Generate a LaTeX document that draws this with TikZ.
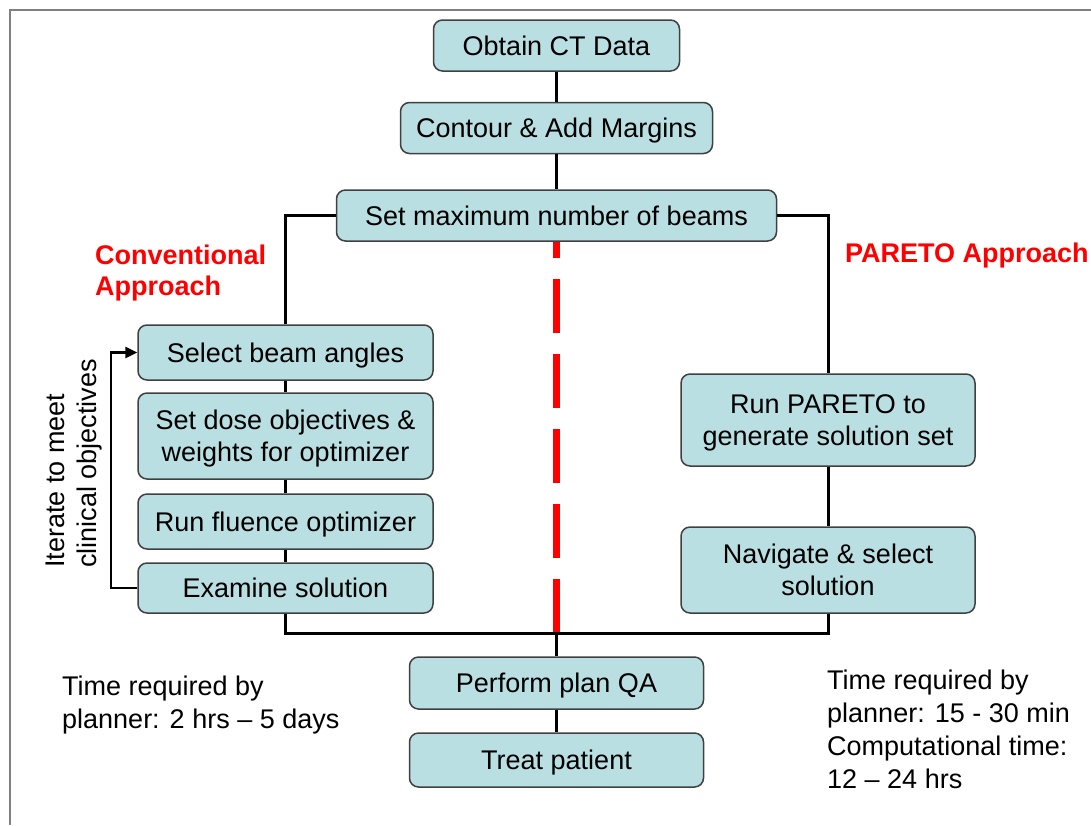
\documentclass[tikz,border=0pt]{standalone}
\usepackage{fontspec}
\setmainfont{Liberation Sans}
\usepackage{tikz}
\usetikzlibrary{arrows.meta}

\definecolor{boxfill}{RGB}{185,223,226}
\definecolor{boxline}{RGB}{64,64,64}
\definecolor{framegray}{RGB}{128,128,128}

\tikzset{
  stepbox/.style={draw=boxline, line width=1.5pt, fill=boxfill, rounded corners=9pt,
    align=center, inner sep=0pt, text height=19pt, text depth=0pt},
  twobox/.style={stepbox, text height=51pt},
  link/.style={line width=3pt},
  note/.style={inner sep=0pt, align=left, anchor=base west},
  headred/.style={note, text=red, font=\fontsize{27pt}{31pt}\selectfont\bfseries},
}

\begin{document}
\begin{tikzpicture}[x=1pt, y=-1pt, font=\fontsize{27pt}{32pt}\selectfont]
\useasboundingbox (0,0) rectangle (1091,825);
\draw[framegray, line width=2pt] (1091,10) -- (10,10) -- (10,825);

% common steps
\node (obtain) [stepbox, minimum width=246pt, minimum height=51pt] at (556.5,45.5) {Obtain CT Data};
\node (contour) [stepbox, minimum width=312pt, minimum height=51pt] at (556.5,128) {Contour \& Add Margins};
\node (setmax) [stepbox, minimum width=440pt, minimum height=51pt] at (556.5,215.5) {Set maximum number of beams};

% conventional side
\node (selbeam) [stepbox, minimum width=295pt, minimum height=55pt] at (285.5,352.5) {Select beam angles};
\node (setdose) [twobox, minimum width=295pt, minimum height=86pt] at (285.5,436) {Set dose objectives \&\\weights for optimizer};
\node (runflu) [stepbox, minimum width=295pt, minimum height=55pt] at (285.5,521.5) {Run fluence optimizer};
\node (examine) [stepbox, minimum width=295pt, minimum height=50pt] at (285.5,588) {Examine solution};

% pareto side
\node (runpareto) [twobox, minimum width=294pt, minimum height=92pt] at (828,420) {Run PARETO to\\generate solution set};
\node (navigate) [twobox, minimum width=294pt, minimum height=86pt] at (828,570) {Navigate \& select\\solution};

% final steps
\node (planqa) [stepbox, minimum width=294pt, minimum height=52pt] at (556.5,683) {Perform plan QA};
\node (treat) [stepbox, minimum width=294pt, minimum height=54pt] at (556.5,760) {Treat patient};

\coordinate (join) at (556.5,633);

% labels
\node (convhead) [headred] at (95,295) {Conventional\\Approach};
\node (parehead) [headred] at (845,262) {PARETO Approach};
\node (convtime) [note, font=\fontsize{27pt}{33pt}\selectfont] at (62,728) {Time required by\\planner: 2 hrs -- 5 days};
\node (paretime) [note, font=\fontsize{27pt}{33pt}\selectfont] at (827,788) {Time required by\\planner: 15 - 30 min\\Computational time:\\12 -- 24 hrs};
\node (iterate) [inner sep=0pt, align=left, rotate=90, anchor=west] at (74,568) {Iterate to meet\\clinical objectives};

% connectors
\draw[red, line width=7pt, dash pattern=on 54pt off 21pt] (join) -- (setmax.south);
\draw[link] (obtain) -- (contour);
\draw[link] (contour) -- (setmax);
\draw[link] (setmax.west) -| (selbeam.north);
\draw[link] (setmax.east) -| (runpareto.north);
\draw[link] (selbeam) -- (setdose);
\draw[link] (setdose) -- (runflu);
\draw[link] (runflu) -- (examine);
\draw[link] (runpareto) -- (navigate);
\draw[link] (examine.south) |- (join) -| (navigate.south);
\draw[link] (join) -- (planqa);
\draw[link] (planqa) -- (treat);
\draw[line width=2.5pt, -{Triangle[length=12pt,width=11pt]}] (examine.west) -- ++(-26.5,0) |- (selbeam.west);
\end{tikzpicture}
\end{document}
